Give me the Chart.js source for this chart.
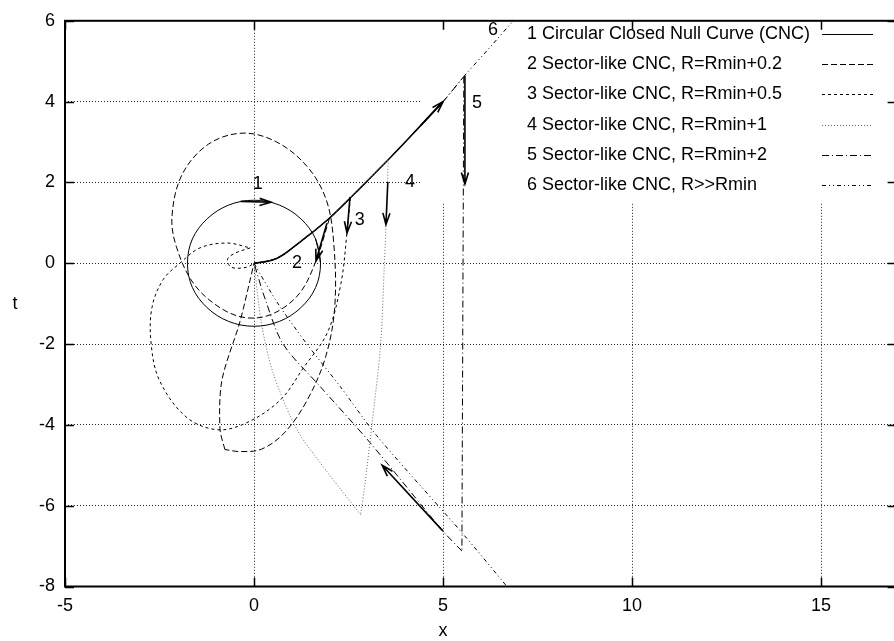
<!DOCTYPE html>
<html>
<head>
<meta charset="utf-8">
<script src="https://cdn.jsdelivr.net/npm/chart.js@4.4.0/dist/chart.umd.min.js"></script>
<style>
  html, body { margin: 0; padding: 0; background: #fff; overflow: hidden; }
  #wrap { width: 900px; height: 641px; }
</style>
</head>
<body>
<div id="wrap"><canvas id="plot" width="900" height="641"></canvas></div>
<script>
// ---- data (x, t) ----
const xTicks = [-5, 0, 5, 10, 15];
const tTicks = [-8, -6, -4, -2, 0, 2, 4, 6];

const keyLabels = [
  '1 Circular Closed Null Curve (CNC)',
  '2 Sector-like CNC, R=Rmin+0.2',
  '3 Sector-like CNC, R=Rmin+0.5',
  '4 Sector-like CNC, R=Rmin+1',
  '5 Sector-like CNC, R=Rmin+2',
  '6 Sector-like CNC, R>>Rmin'
];

// 1: circular CNC
const cncCircle = [[1.76,0],[1.63,0.6],[1.24,1.1],[0.67,1.44],[0,1.56],[-0.67,1.44],[-1.24,1.1],[-1.63,0.6],
  [-1.76,0],[-1.63,-0.6],[-1.24,-1.1],[-0.67,-1.44],[0,-1.56],[0.67,-1.44],[1.24,-1.1],[1.63,-0.6],[1.76,0],[1.63,0.6]];

// common outgoing null ray
const outRay = [[0,0],[0.3,0.04],[0.6,0.12],[0.85,0.26],[1.1,0.44],[1.5,0.73],[2.0,1.12],[2.55,1.62],[3.0,2.04],[3.55,2.56],[4.0,3.0],[5.0,4.0]];

// 2: R = Rmin + 0.2
const c2Out = [[0,0],[0.3,0.04],[0.6,0.12],[0.85,0.26],[1.1,0.44],[1.5,0.73],[2.0,1.12]];
const c2Arc = [[2.0,1.12],[1.64,0.06],[1.2,-0.75],[0.5,-1.25],[-0.2,-1.35],[-0.9,-1.1],[-1.6,-0.5],[-2.05,0.4],
  [-2.17,1.16],[-1.9,2.2],[-1.2,2.95],[-0.29,3.22],[0.6,3.0],[1.4,2.4],[1.9,1.6],[2.1,0.6],[2.14,-1.03],
  [1.9,-2.3],[1.4,-3.4],[0.8,-4.2],[0.2,-4.6],[-0.37,-4.66],[-0.77,-4.61]];
const c2Back = [[-0.77,-4.61],[-0.9,-4.1],[-0.85,-2.9],[-0.37,-1.44],[0,0]];

// 3: R = Rmin + 0.5
const c3Out = [[0,0],[0.3,0.04],[0.6,0.12],[0.85,0.26],[1.1,0.44],[1.5,0.73],[2.0,1.12],[2.55,1.62]];
const c3Arc = [[2.55,1.62],[2.46,0.75],[2.3,-0.5],[1.95,-1.7],[1.3,-2.6],[0.69,-3.39],[-0.2,-3.95],[-0.98,-4.12],
  [-1.8,-3.8],[-2.5,-2.9],[-2.72,-2.0],[-2.7,-1.1],[-2.4,-0.4],[-1.96,0.0],[-1.43,0.38],[-0.71,0.5],[-0.1,0.38]];
const c3Back = [[-0.1,0.38],[-0.5,0.25],[-0.7,0.1],[-0.6,-0.1],[-0.2,-0.1],[0,0]];

// 4: R = Rmin + 1
const c4Out = [[0,0],[0.3,0.04],[0.6,0.12],[0.85,0.26],[1.1,0.44],[1.5,0.73],[2.0,1.12],[2.55,1.62],[3.0,2.04],[3.55,2.56]];
const c4Down = [[3.55,2.56],[3.52,1.5],[3.45,0],[3.35,-2],[3.12,-4],[2.93,-5.5],[2.82,-6.22]];
const c4Back = [[2.82,-6.22],[2.0,-5.24],[1.14,-4.12],[0.5,-2.7],[0.2,-1.5],[0,0]];

// 5: R = Rmin + 2
const c5Out = outRay.concat([[5.55,4.62]]);
const c5Down = [[5.55,4.62],[5.53,0],[5.5,-7.12]];
const c5Back = [[5.5,-7.12],[5.0,-6.63],[3.07,-4.44],[1.75,-3.05],[0.77,-2.0],[0.3,-0.9],[0,0]];

// 6: R >> Rmin
const c6Out = outRay.concat([[5.55,4.62],[6.2,5.3],[7.0,6.15]]);
const c6Back = [[0,0],[0.6,-0.95],[1.4,-2.0],[2.28,-3.05],[3.25,-4.27],[5.53,-6.7],[6.69,-8],[6.9,-8.25]];

// numbered labels and arrows along the curves
const tagText = ['1', '2', '3', '4', '5', '6'];
const tagPos = [[0.1,1.96],[1.14,0.0],[2.8,1.08],[4.13,2.0],[5.9,3.96],[6.32,5.78]];
const arrowFrom = [[-0.35,1.53],[1.93,0.99],[2.54,1.64],[3.54,2.01],[5.58,4.64],[4.4,3.4],[5.0,-6.63]];
const arrowTo   = [[0.45,1.51],[1.64,0.06],[2.46,0.75],[3.49,0.96],[5.58,1.96],[5.0,4.0],[3.39,-5.0]];

// ---- styles ----
const font = 'Liberation Sans, Arial, Helvetica, sans-serif';
const styles = [
  { color: '#000', dash: [] },
  { color: '#000', dash: [6, 3] },
  { color: '#000', dash: [3, 3] },
  { color: '#666', dash: [1, 2] },
  { color: '#000', dash: [7, 3, 1, 3] },
  { color: '#000', dash: [4, 3, 1, 3, 1, 3] }
];

function pts(arr) { return arr.map(p => ({ x: p[0], y: p[1] })); }
function seg(arr, k, tension) {
  return {
    data: pts(arr), showLine: true, pointRadius: 0, borderWidth: 1,
    borderColor: styles[k].color, borderDash: styles[k].dash, tension: tension
  };
}

const datasets = [
  seg(cncCircle, 0, 0.35),
  seg(c2Out, 1, 0.3), seg(c2Arc, 1, 0.35), seg(c2Back, 1, 0.3),
  seg(c3Out, 2, 0.3), seg(c3Arc, 2, 0.35), seg(c3Back, 2, 0.35),
  seg(c4Out, 3, 0.3), seg(c4Down, 3, 0.3), seg(c4Back, 3, 0.3),
  seg(c5Out, 4, 0.3), seg(c5Down, 4, 0), seg(c5Back, 4, 0.3),
  seg(c6Out, 5, 0.3), seg(c6Back, 5, 0.3),
  // solid shaft over the shared outgoing ray
  Object.assign(seg(outRay, 0, 0.3), { borderWidth: 1.6 })
];

const keyBox = {
  id: 'keyBox',
  beforeDatasetsDraw(chart) {
    const ctx = chart.ctx, a = chart.chartArea;
    ctx.save();
    ctx.fillStyle = '#fff';
    ctx.fillRect(420, a.top + 1, a.right - 420, 201 - a.top);
    ctx.restore();
  }
};

function drawArrow(ctx, x1, y1, x2, y2) {
  const ang = Math.atan2(y2 - y1, x2 - x1), len = 12, w = 0.3;
  ctx.beginPath();
  ctx.moveTo(x1, y1); ctx.lineTo(x2, y2);
  ctx.moveTo(x2 - len * Math.cos(ang - w), y2 - len * Math.sin(ang - w));
  ctx.lineTo(x2, y2);
  ctx.lineTo(x2 - len * Math.cos(ang + w), y2 - len * Math.sin(ang + w));
  ctx.stroke();
}

const decorations = {
  id: 'decorations',
  afterDatasetsDraw(chart) {
    const ctx = chart.ctx, xs = chart.scales.x, ys = chart.scales.y;
    ctx.save();
    ctx.strokeStyle = '#000';
    ctx.lineWidth = 1.6;
    ctx.setLineDash([]);
    for (let i = 0; i < arrowFrom.length; i++) {
      drawArrow(ctx,
        xs.getPixelForValue(arrowFrom[i][0]), ys.getPixelForValue(arrowFrom[i][1]),
        xs.getPixelForValue(arrowTo[i][0]), ys.getPixelForValue(arrowTo[i][1]));
    }
    ctx.fillStyle = '#000';
    ctx.font = '18px ' + font;
    ctx.textAlign = 'center';
    ctx.textBaseline = 'middle';
    tagText.forEach((s, i) => {
      ctx.fillText(s, xs.getPixelForValue(tagPos[i][0]), ys.getPixelForValue(tagPos[i][1]));
    });
    ctx.restore();
  },
  afterDraw(chart) {
    const ctx = chart.ctx, a = chart.chartArea, xs = chart.scales.x, ys = chart.scales.y;
    ctx.save();
    // frame
    ctx.strokeStyle = '#000';
    ctx.lineWidth = 2;
    ctx.setLineDash([]);
    ctx.strokeRect(a.left, a.top, a.right - a.left, a.bottom - a.top);
    // inward ticks on all four sides
    ctx.lineWidth = 1.5;
    ctx.beginPath();
    xTicks.forEach(v => {
      const px = Math.round(xs.getPixelForValue(v)) + 0.5;
      ctx.moveTo(px, a.bottom); ctx.lineTo(px, a.bottom - 9);
      ctx.moveTo(px, a.top); ctx.lineTo(px, a.top + 9);
    });
    tTicks.forEach(v => {
      const py = Math.round(ys.getPixelForValue(v)) + 0.5;
      ctx.moveTo(a.left, py); ctx.lineTo(a.left + 9, py);
      ctx.moveTo(a.right, py); ctx.lineTo(a.right - 9, py);
    });
    ctx.stroke();
    // axis titles
    ctx.fillStyle = '#000';
    ctx.font = '18px ' + font;
    ctx.textAlign = 'center';
    ctx.textBaseline = 'middle';
    ctx.fillText('x', xs.getPixelForValue(5), 631);
    ctx.fillText('t', 15, (a.top + a.bottom) / 2);
    // key
    ctx.textAlign = 'left';
    keyLabels.forEach((s, i) => {
      const y = 34 + i * 30.2;
      ctx.fillStyle = '#000';
      ctx.fillText(s, 527, y);
      ctx.strokeStyle = styles[i].color;
      ctx.lineWidth = 1;
      ctx.setLineDash(styles[i].dash);
      ctx.beginPath();
      ctx.moveTo(822, Math.round(y) + 0.5);
      ctx.lineTo(873, Math.round(y) + 0.5);
      ctx.stroke();
    });
    ctx.restore();
  }
};

new Chart(document.getElementById('plot'), {
  type: 'scatter',
  data: { datasets: datasets },
  plugins: [keyBox, decorations],
  options: {
    responsive: false,
    animation: false,
    devicePixelRatio: 1,
    layout: { padding: { top: 11, right: 3.4, left: 0, bottom: 0 } },
    elements: { line: { capBezierPoints: false } },
    plugins: { legend: { display: false }, tooltip: { enabled: false } },
    scales: {
      x: {
        type: 'linear', min: -5, max: 17,
        afterFit: s => { s.height = 54.5; },
        afterBuildTicks: s => { s.ticks = xTicks.map(v => ({ value: v })); },
        ticks: { color: '#000', font: { size: 18, family: font }, padding: 9, maxRotation: 0 },
        grid: { color: '#222', lineWidth: 1, drawTicks: false },
        border: { display: false, dash: [1, 2] }
      },
      y: {
        type: 'linear', min: -8, max: 6,
        afterFit: s => { s.width = 65; },
        afterBuildTicks: s => { s.ticks = tTicks.map(v => ({ value: v })); },
        ticks: { color: '#000', font: { size: 18, family: font }, padding: 10 },
        grid: { color: '#222', lineWidth: 1, drawTicks: false },
        border: { display: false, dash: [1, 2] }
      }
    }
  }
});
</script>
</body>
</html>
